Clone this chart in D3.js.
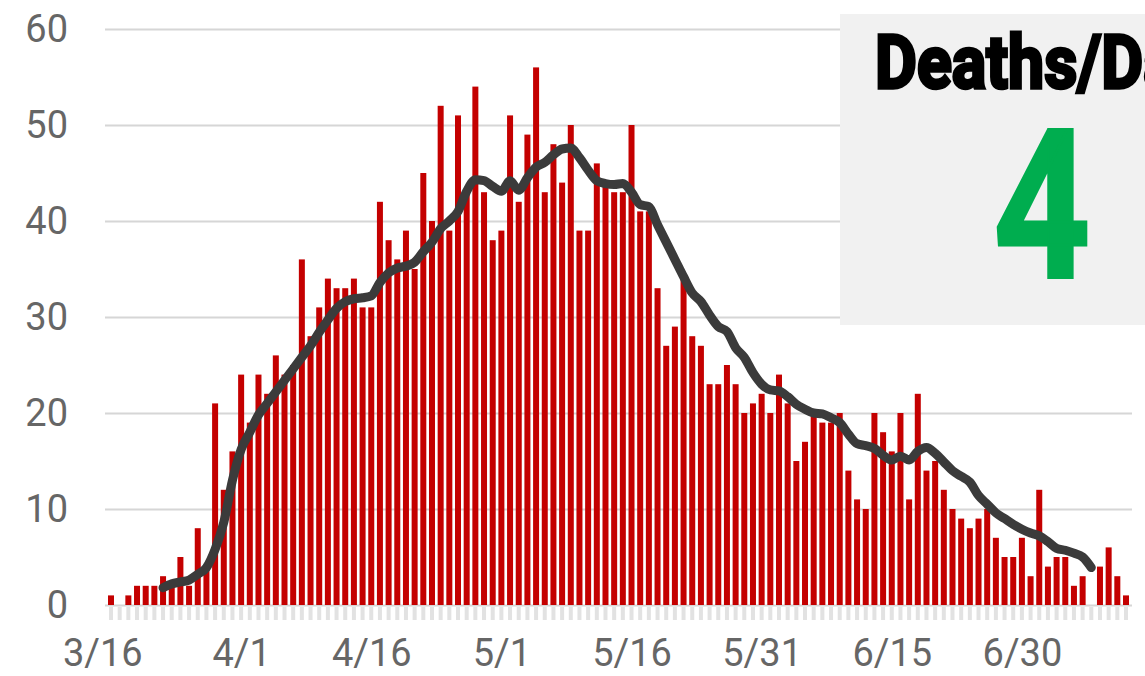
<!DOCTYPE html>
<html>
<head>
<meta charset="utf-8">
<script src="https://cdn.jsdelivr.net/npm/d3@7"></script>
<style>
  body { margin: 0; background: #fff; }
  svg { display: block; }
</style>
</head>
<body>
<div id="chart"></div>
<script>
// daily deaths, one value per day starting at firstDay
const firstDay = "2020-03-17";
const deaths = [
  1, 0, 1, 2, 2, 2, 3, 2, 5, 2,
  8, 4, 21, 12, 16, 24, 19, 24, 22, 26,
  24, 25, 36, 28, 31, 34, 33, 33, 34, 31,
  31, 42, 38, 36, 39, 35, 45, 40, 52, 39,
  51, 43, 54, 43, 38, 39, 51, 42, 49, 56,
  43, 48, 44, 50, 39, 39, 46, 44, 43, 43,
  50, 41, 41, 33, 27, 29, 34, 28, 27, 23,
  23, 25, 23, 20, 21, 22, 20, 24, 21, 15,
  17, 20, 19, 19, 20, 14, 11, 10, 20, 18,
  16, 20, 11, 22, 14, 15, 12, 10, 9, 8,
  9, 10, 7, 5, 5, 7, 3, 12, 4, 5,
  5, 2, 3, 0, 4, 6, 3, 1
];

// 7-day average, starting at day index avgStart
const avgStart = 6;
const avg = [
  1.8, 2.2, 2.4, 2.6, 3.2, 3.9, 5.8, 8.6, 13.0, 16.2,
  18.0, 19.8, 21.0, 22.2, 23.4, 24.6, 25.8, 27.0, 28.4, 29.7,
  30.9, 31.6, 31.9, 32.0, 32.2, 33.6, 34.6, 35.1, 35.3, 35.7,
  36.8, 37.8, 39.2, 40.0, 41.0, 43.1, 44.3, 44.2, 43.6, 43.1,
  44.2, 43.2, 44.5, 45.6, 46.1, 46.9, 47.5, 47.6, 46.6, 45.3,
  44.2, 43.9, 43.8, 43.9, 43.0, 41.7, 41.5, 39.6, 37.8, 36.0,
  34.2, 32.5, 31.6, 30.2, 29.0, 28.5, 26.8, 25.8, 24.2, 23.0,
  22.4, 22.3, 21.7, 20.9, 20.4, 20.0, 19.9, 19.5, 19.0, 17.8,
  16.8, 16.6, 16.3, 15.6, 15.1, 15.5, 15.1, 16.0, 16.4, 15.8,
  14.9, 14.0, 13.4, 12.8, 11.4, 10.5, 9.6, 9.0, 8.4, 7.9,
  7.5, 7.2, 6.6, 5.9, 5.7, 5.4, 5.0, 3.9
];

const yTicks = [0, 10, 20, 30, 40, 50, 60];
const xTickLabels = ["3/16", "4/1", "4/16", "5/1", "5/16", "5/31", "6/15", "6/30"];
const boxTitle = "Deaths/Day";
const boxValue = "4";

const width = 1145, height = 676;
const parse = d3.utcParse("%Y-%m-%d");
const day0 = parse(firstDay);
const dayAt = i => d3.utcDay.offset(day0, i);
const rows = deaths.map((v, i) => ({date: dayAt(i), value: v}));
const avgRows = avg.map((v, i) => ({date: dayAt(avgStart + i), value: v}));
const tickDates = xTickLabels.map(s => {
  const [m, d] = s.split("/").map(Number);
  return new Date(Date.UTC(2020, m - 1, d));
});

const x = d3.scaleUtc()
  .domain([rows[0].date, rows[rows.length - 1].date])
  .range([111, 1126]);

const y = d3.scaleLinear()
  .domain([0, 60])
  .range([605, 29]);

const svg = d3.select("#chart").append("svg")
  .attr("width", width)
  .attr("height", height)
  .style("font-family", "Roboto, sans-serif");

// gridlines + y labels
svg.append("g")
  .attr("transform", "translate(105,0)")
  .call(d3.axisLeft(y).tickValues(yTicks).tickSize(-1027).tickPadding(37))
  .call(g => g.select(".domain").remove())
  .call(g => g.selectAll(".tick line").attr("stroke", "#d6d6d6").attr("stroke-width", 2))
  .call(g => g.selectAll(".tick text")
    .attr("fill", "#666")
    .attr("font-size", 38)
    .attr("font-family", "Roboto, sans-serif"));

// small day ticks under the bars
svg.append("g")
  .selectAll("rect")
  .data(rows)
  .join("rect")
  .attr("x", d => x(d.date) - 2)
  .attr("y", 607)
  .attr("width", 4)
  .attr("height", 13)
  .attr("fill", "#e2e2e2");

// x labels
svg.append("g")
  .attr("transform", "translate(0,605)")
  .call(d3.axisBottom(x).tickValues(tickDates).tickFormat(d3.utcFormat("%-m/%-d")).tickSize(0).tickPadding(34))
  .call(g => g.select(".domain").remove())
  .call(g => g.selectAll(".tick text")
    .attr("fill", "#666")
    .attr("font-size", 38)
    .attr("font-family", "Roboto, sans-serif"));

// bars
svg.append("g")
  .attr("fill", "#c40000")
  .selectAll("rect")
  .data(rows)
  .join("rect")
  .attr("x", d => x(d.date) - 3)
  .attr("y", d => y(d.value))
  .attr("width", 6)
  .attr("height", d => y(0) - y(d.value));

// average line
const line = d3.line()
  .curve(d3.curveMonotoneX)
  .x(d => x(d.date))
  .y(d => y(d.value));

svg.append("path")
  .datum(avgRows)
  .attr("fill", "none")
  .attr("stroke", "#3b3b3b")
  .attr("stroke-width", 9)
  .attr("stroke-linejoin", "round")
  .attr("stroke-linecap", "round")
  .attr("d", line);

// info box (runs past the right edge, as in the source)
const box = svg.append("g");
box.append("rect")
  .attr("x", 840)
  .attr("y", 14)
  .attr("width", 320)
  .attr("height", 311)
  .attr("fill", "#f1f1f1");

box.append("text")
  .attr("transform", "translate(875,88) scale(0.86,1)")
  .attr("font-size", 75)
  .attr("font-weight", 700)
  .attr("fill", "#000")
  .attr("stroke", "#000")
  .attr("stroke-width", 3.5)
  .text(boxTitle);

box.append("text")
  .attr("transform", "translate(1042,277) scale(0.82,1)")
  .attr("text-anchor", "middle")
  .attr("font-size", 207)
  .attr("font-weight", 700)
  .attr("fill", "#00ad4f")
  .attr("stroke", "#00ad4f")
  .attr("stroke-width", 3)
  .text(boxValue);
</script>
</body>
</html>
